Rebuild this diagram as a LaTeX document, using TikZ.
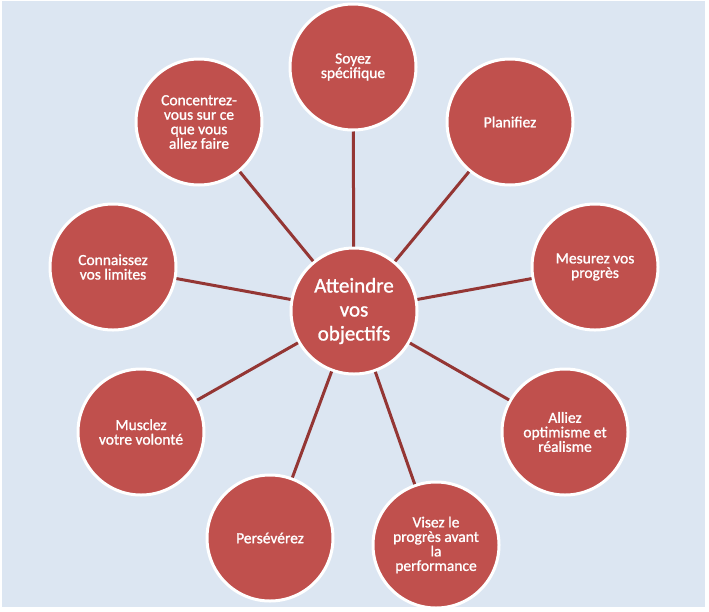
\documentclass[tikz,border=0pt]{standalone}
\usepackage{fontspec}
\setmainfont{Carlito}
\newfontfamily\heavyfont{Carlito}[FakeBold=1.2]
\definecolor{bgblue}{HTML}{DCE6F2}
\definecolor{redfill}{HTML}{C0504D}
\definecolor{linered}{HTML}{943634}
\begin{document}
\begin{tikzpicture}[x=1pt,y=-1pt,
  bubble/.style={circle, fill=redfill, draw=white, line width=3pt, minimum size=126pt, inner sep=0pt,
    text=white, align=center, font=\heavyfont\fontsize{15.5}{14.5}\selectfont},
  hub/.style={bubble, font=\heavyfont\fontsize{21}{24}\selectfont},
  conn/.style={draw=linered, line width=3pt}]
\useasboundingbox (0,0) rectangle (709,611);
\fill[white] (0,0) rectangle (709,611);
\fill[bgblue] (2,1) rectangle (705,607);
\node[hub] (c) at (354,311) {Atteindre\\vos\\objectifs};
\node[bubble] (o1) at (353,67) {Soyez\\spécifique};
\node[bubble] (o2) at (510,122) {Planifiez};
\node[bubble] (o3) at (595,267) {Mesurez vos\\progrès};
\node[bubble] (o4) at (565,432) {Alliez\\optimisme et\\réalisme};
\node[bubble] (o5) at (436,545) {Visez le\\progrès avant\\la\\performance};
\node[bubble] (o6) at (270,538) {Persévérez};
\node[bubble] (o7) at (141,432) {Musclez\\votre volonté};
\node[bubble] (o8) at (113,267) {Connaissez\\vos limites};
\node[bubble] (o9) at (199,122) {Concentrez-\\vous sur ce\\que vous\\allez faire};
\foreach \o in {o1,o2,o3,o4,o5,o6,o7,o8,o9} {
  \path[conn] (c) -- (\o);
}
\end{tikzpicture}
\end{document}
